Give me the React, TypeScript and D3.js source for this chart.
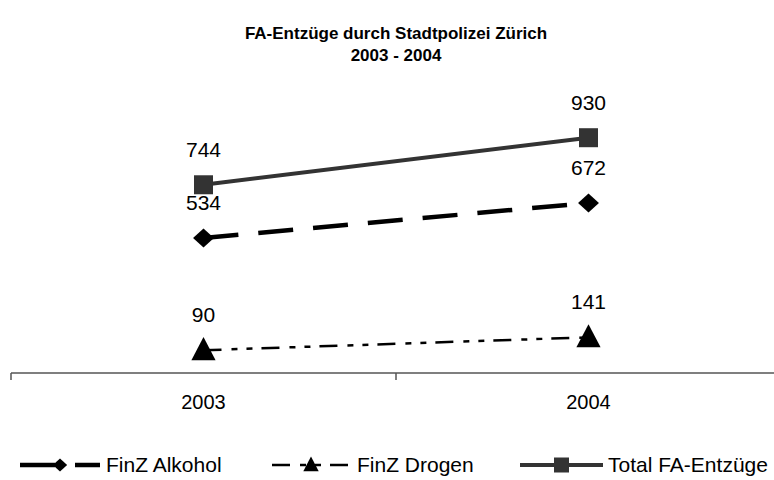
import React, { useRef, useEffect } from 'react';
import * as d3 from 'd3';

// chart data
const years = ['2003', '2004'];
const alkohol = [534, 672];
const drogen = [90, 141];
const total = [744, 930];

const seriesNames = ['FinZ Alkohol', 'FinZ Drogen', 'Total FA-Entzüge'];

function App() {
  const chartRef = useRef<SVGSVGElement | null>(null);

  useEffect(() => {
    const width = 774;
    const height = 480;
    const font = 'Liberation Sans, Arial, sans-serif';
    document.body.style.margin = '0';

    const svg = d3.select(chartRef.current)
      .attr('width', width)
      .attr('height', height)
      .style('display', 'block')
      .style('font-family', font);
    svg.selectAll('*').remove();

    // title
    const title = svg.append('text')
      .attr('text-anchor', 'middle')
      .attr('font-weight', 'bold')
      .attr('font-size', 17)
      .attr('fill', '#000');
    title.append('tspan').attr('x', 396).attr('y', 39).text('FA-Entzüge durch Stadtpolizei Zürich');
    title.append('tspan').attr('x', 396).attr('y', 61).text('2003 - 2004');

    // scales
    const xScale = d3.scaleBand()
      .domain(years)
      .range([11, 781]);

    const yScale = d3.scaleLinear()
      .domain([0, 1000])
      .range([373, 120]);

    const cx = (d: string) => (xScale(d) ?? 0) + xScale.bandwidth() / 2;

    // x axis
    const axis = svg.append('g');
    axis.append('line')
      .attr('x1', 11).attr('x2', 781)
      .attr('y1', yScale(0)).attr('y2', yScale(0))
      .attr('stroke', '#555').attr('stroke-width', 1.5);
    const tickXs = [11, ...years.map(y => (xScale(y) ?? 0) + xScale.bandwidth())];
    axis.selectAll('.tick')
      .data(tickXs)
      .enter().append('line')
      .attr('x1', d => d).attr('x2', d => d)
      .attr('y1', yScale(0)).attr('y2', yScale(0) + 7)
      .attr('stroke', '#555').attr('stroke-width', 1.5);
    axis.selectAll('.label')
      .data(years)
      .enter().append('text')
      .attr('x', d => cx(d))
      .attr('y', 409)
      .attr('text-anchor', 'middle')
      .attr('font-size', 20)
      .attr('fill', '#000')
      .text(d => d);

    const series = [
      { name: seriesNames[0], values: alkohol, color: '#000', width: 4.5, dash: '35,20', shape: 'diamond' },
      { name: seriesNames[1], values: drogen, color: '#000', width: 2.5, dash: '18,10,6,9,6,9', shape: 'triangle' },
      { name: seriesNames[2], values: total, color: '#333', width: 4, dash: null, shape: 'square' },
    ];

    const markerPath = (shape: string, s: number) => {
      if (shape === 'diamond') return `M0,${-s * 0.5}L${s * 0.55},0L0,${s * 0.5}L${-s * 0.55},0Z`;
      if (shape === 'triangle') return `M0,${-s * 0.6}L${s * 0.55},${s * 0.45}L${-s * 0.55},${s * 0.45}Z`;
      return `M${-s / 2},${-s / 2}h${s}v${s}h${-s}Z`;
    };

    const line = d3.line<number>()
      .x((_, i) => cx(years[i]))
      .y(d => yScale(d));

    series.forEach(s => {
      svg.append('path')
        .datum(s.values)
        .attr('d', line)
        .attr('fill', 'none')
        .attr('stroke', s.color)
        .attr('stroke-width', s.width)
        .attr('stroke-dasharray', s.dash);

      const size = s.shape === 'square' ? 19 : s.shape === 'diamond' ? 19 : 22;
      svg.selectAll(null)
        .data(s.values)
        .enter().append('path')
        .attr('transform', (d, i) => `translate(${cx(years[i])},${yScale(d)})`)
        .attr('d', markerPath(s.shape, size))
        .attr('fill', s.color);

      svg.selectAll(null)
        .data(s.values)
        .enter().append('text')
        .attr('x', (_, i) => cx(years[i]))
        .attr('y', d => yScale(d) - 28)
        .attr('text-anchor', 'middle')
        .attr('font-size', 21)
        .attr('fill', '#000')
        .text(d => d);
    });

    // legend
    const legendPos = [
      { x1: 20, x2: 100, tx: 106 },
      { x1: 272, x2: 350, tx: 357 },
      { x1: 520, x2: 603, tx: 608 },
    ];
    const ly = 465;
    series.forEach((s, i) => {
      const p = legendPos[i];
      const g = svg.append('g');
      g.append('line')
        .attr('x1', p.x1).attr('x2', p.x2)
        .attr('y1', ly).attr('y2', ly)
        .attr('stroke', s.color)
        .attr('stroke-width', s.width)
        .attr('stroke-dasharray', s.dash);
      const size = s.shape === 'square' ? 15 : s.shape === 'diamond' ? 13 : 14;
      g.append('path')
        .attr('transform', `translate(${(p.x1 + p.x2) / 2},${ly})`)
        .attr('d', markerPath(s.shape, size))
        .attr('fill', s.color);
      g.append('text')
        .attr('x', p.tx)
        .attr('y', ly + 7)
        .attr('font-size', 21)
        .attr('fill', '#000')
        .text(s.name);
    });
  }, []);

  return <svg ref={chartRef}></svg>;
}

export default App;
